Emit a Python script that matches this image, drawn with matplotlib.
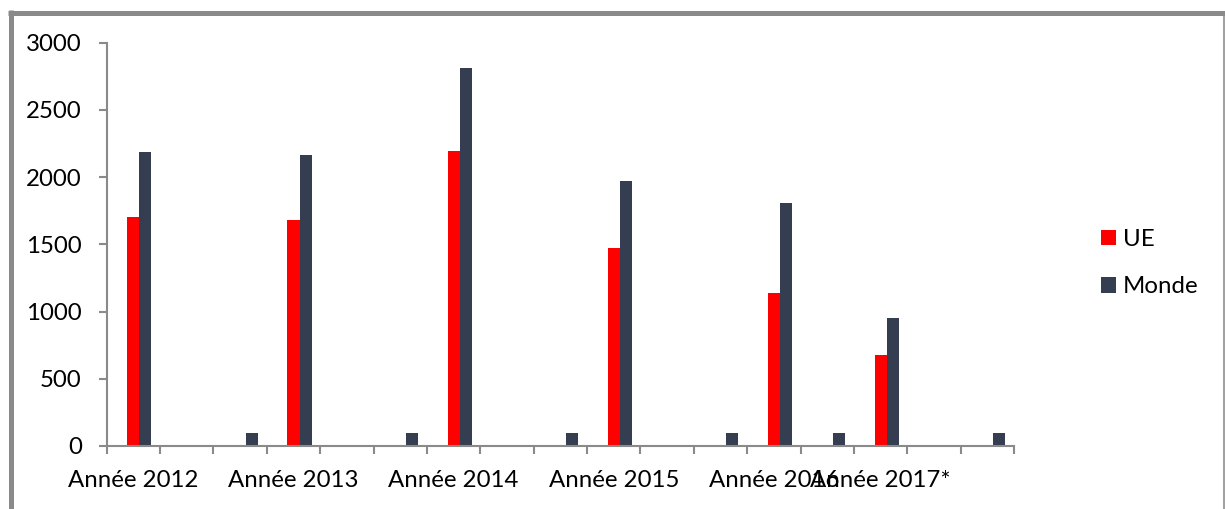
import matplotlib
matplotlib.use("Agg")
import matplotlib.pyplot as plt
from matplotlib.lines import Line2D
from matplotlib.patches import Patch
import numpy as np

plt.rcParams['font.family'] = ['Lato', 'DejaVu Sans']

# Category labels (blank slots keep the spacing of the original worksheet)
categories = ["Année 2012", "", "", "Année 2013", "", "", "Année 2014", "", "",
              "Année 2015", "", "", "Année 2016", "", "Année 2017*", "", ""]
ue = [1700, 0, 0, 1680, 0, 5, 2195, 0, 5, 1475, 0, 5, 1140, 5, 680, 0, 5]
monde = [2190, 0, 100, 2165, 0, 100, 2810, 0, 100, 1970, 0, 100, 1805, 100, 950, 0, 100]
series_names = ["UE", "Monde"]
yticks = [0, 500, 1000, 1500, 2000, 2500, 3000]

RED = "#FF0000"
DARK = "#343E50"
GREY = "#8A8A8A"
FS = 17.3

W, H = 1225, 509
fig = plt.figure(figsize=(W / 100, H / 100), dpi=100)
ax = fig.add_axes([106.7 / W, 63 / H, (1014 - 106.7) / W, (446 - 42.7) / H])

n = len(categories)
x = np.arange(n) + 0.5
bw = 0.225
ax.bar(x, ue, width=bw, color=RED, linewidth=0)
ax.bar(x + bw, monde, width=bw, color=DARK, linewidth=0)

ax.set_xlim(0, n)
ax.set_ylim(0, 3000)
ax.set_yticks(yticks)
ax.set_yticklabels([str(v) for v in yticks], fontsize=FS)

# Tick marks at category boundaries, labels at category centres
ax.set_xticks(np.arange(n + 1))
ax.set_xticklabels([])
ax.set_xticks(x, minor=True)
ax.set_xticklabels(categories, minor=True, fontsize=FS)
ax.tick_params(axis='x', which='major', length=6, width=1.5, color=GREY, direction='out')
ax.tick_params(axis='x', which='minor', length=0, pad=17.5)
ax.tick_params(axis='y', length=6, width=1.5, color=GREY, pad=12)

for side in ("top", "right"):
    ax.spines[side].set_visible(False)
for side in ("left", "bottom"):
    ax.spines[side].set_color(GREY)
    ax.spines[side].set_linewidth(1.5)

handles = [Patch(facecolor=RED, edgecolor='none'), Patch(facecolor=DARK, edgecolor='none')]
fig.legend(handles, series_names, loc='center left', bbox_to_anchor=(1101 / W, 1 - 263 / H),
           frameon=False, fontsize=FS, handlelength=0.62, handleheight=0.62,
           handletextpad=0.3, labelspacing=1.1, borderpad=0, borderaxespad=0)

# Chart-area border (left, top, right edges)
def px_line(xs, ys, lw):
    fig.add_artist(Line2D([v / W for v in xs], [1 - v / H for v in ys],
                          transform=fig.transFigure, color=GREY, linewidth=lw,
                          solid_capstyle='butt'))

px_line([10.5, 10.5], [10, H], 5 * 0.72)
px_line([8, W], [12.5, 12.5], 5 * 0.72)
px_line([1223.8, 1223.8], [15, H], 1.6 * 0.72)

fig.savefig("out.png", dpi=100, facecolor="white")
